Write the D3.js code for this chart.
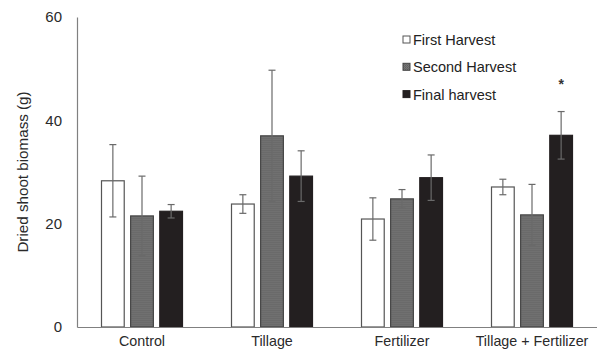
<!DOCTYPE html>
<html>
<head>
<meta charset="utf-8">
<script src="https://cdn.jsdelivr.net/npm/d3@7/dist/d3.min.js"></script>
<style>
  html, body { margin: 0; padding: 0; background: #fff; }
  svg { display: block; font-family: "Liberation Sans", Arial, sans-serif; }
</style>
</head>
<body>
<svg id="chart" width="597" height="354"></svg>
<script>
// Treatments and harvest series
const categories = ["Control", "Tillage", "Fertilizer", "Tillage + Fertilizer"];
const seriesNames = ["First Harvest", "Second Harvest", "Final harvest"];
const firstHarvest  = [28.3, 23.8, 20.9, 27.1];
const secondHarvest = [21.5, 37.0, 24.8, 21.7];
const finalHarvest  = [22.4, 29.2, 28.9, 37.1];
// Error bar half-lengths (±)
const firstErr  = [7.0, 1.8, 4.1, 1.5];
const secondErr = [7.7, 12.7, 1.8, 5.9];
const finalErr  = [1.3, 4.9, 4.4, 4.6];
const yTicks = [0, 20, 40, 60];
// Significance marker
const markers = [{ category: "Tillage + Fertilizer", series: 2, text: "*" }];

const values = [firstHarvest, secondHarvest, finalHarvest];
const errors = [firstErr, secondErr, finalErr];

const svg = d3.select("#chart");
const margin = { left: 77, right: 0, top: 17, bottom: 27 };
const W = 597, H = 354;
const FONT = "Liberation Sans, Arial, sans-serif";

const defs = svg.append("defs");
const pat = defs.append("pattern")
  .attr("id", "dots").attr("patternUnits", "userSpaceOnUse")
  .attr("width", 2).attr("height", 2);
pat.append("rect").attr("width", 2).attr("height", 2).attr("fill", "#858585");
pat.append("rect").attr("width", 1).attr("height", 1).attr("fill", "#505050");
pat.append("rect").attr("x", 1).attr("y", 1).attr("width", 1).attr("height", 1).attr("fill", "#5a5a5a");

const fills = ["#ffffff", "url(#dots)", "#231f20"];
const strokes = ["#555", "#444", "#231f20"];

const x0 = d3.scaleBand().domain(categories)
  .range([margin.left, W - margin.right]).paddingInner(0).paddingOuter(0);
const x1 = d3.scaleBand().domain(d3.range(3))
  .range([0, 81]).paddingInner(0.22).paddingOuter(0);
const groupOffset = (x0.bandwidth() - 81) / 2;
const y = d3.scaleLinear().domain([0, 60]).range([H - margin.bottom, margin.top]);

// Y axis
const yAxis = svg.append("g")
  .attr("transform", `translate(${margin.left},0)`)
  .call(d3.axisLeft(y).tickValues(yTicks).tickSize(0).tickPadding(15));
yAxis.select(".domain").attr("stroke", "#808080").attr("stroke-width", 1.2);
yAxis.selectAll("text").attr("font-size", 15).attr("fill", "#2a2a2a")
  .attr("font-family", FONT);

// Bars
categories.forEach((cat, ci) => {
  const g = svg.append("g").attr("transform", `translate(${x0(cat) + groupOffset},0)`);
  values.forEach((vals, si) => {
    g.append("rect")
      .attr("x", x1(si)).attr("width", x1.bandwidth())
      .attr("y", y(vals[ci])).attr("height", y(0) - y(vals[ci]))
      .attr("fill", fills[si]).attr("stroke", strokes[si]).attr("stroke-width", 1.2);
  });
  values.forEach((vals, si) => {
    const cx = x1(si) + x1.bandwidth() / 2;
    const hi = vals[ci] + errors[si][ci], lo = vals[ci] - errors[si][ci];
    const eg = g.append("g").attr("stroke", "#6a6a6a").attr("stroke-width", 1.2);
    eg.append("line").attr("x1", cx).attr("x2", cx).attr("y1", y(hi)).attr("y2", y(lo));
    eg.append("line").attr("x1", cx - 3.5).attr("x2", cx + 3.5).attr("y1", y(hi)).attr("y2", y(hi));
    eg.append("line").attr("x1", cx - 3.5).attr("x2", cx + 3.5).attr("y1", y(lo)).attr("y2", y(lo));
  });
});

// X axis
const xAxis = svg.append("g")
  .attr("transform", `translate(0,${y(0)})`)
  .call(d3.axisBottom(x0).tickSize(0).tickPadding(9));
xAxis.select(".domain").attr("stroke", "#808080").attr("stroke-width", 1.2);
xAxis.selectAll("text").attr("font-size", 14.3).attr("fill", "#2a2a2a")
  .attr("font-family", FONT);

// Significance markers
markers.forEach(m => {
  const ci = categories.indexOf(m.category);
  const top = values[m.series][ci] + errors[m.series][ci];
  svg.append("text")
    .attr("x", x0(m.category) + groupOffset + x1(m.series) + x1.bandwidth() / 2)
    .attr("y", y(top) - 23)
    .attr("text-anchor", "middle").attr("font-size", 14).attr("font-weight", "bold")
    .attr("fill", "#333").attr("font-family", FONT)
    .text(m.text);
});

// Y axis title
svg.append("text")
  .attr("transform", `translate(28,${(y(0) + y(60)) / 2}) rotate(-90)`)
  .attr("text-anchor", "middle").attr("font-size", 15.2).attr("fill", "#2a2a2a")
  .attr("font-family", FONT)
  .text("Dried shoot biomass (g)");

// Legend
const legend = svg.append("g").attr("transform", "translate(403,40)");
seriesNames.forEach((name, i) => {
  const lg = legend.append("g").attr("transform", `translate(0,${i * 27.3})`);
  lg.append("rect").attr("x", 0).attr("y", -4).attr("width", 7).attr("height", 7)
    .attr("fill", fills[i]).attr("stroke", strokes[i]).attr("stroke-width", 1);
  lg.append("text").attr("x", 10).attr("y", 5)
    .attr("font-size", 14.5).attr("fill", "#222").attr("font-family", FONT).text(name);
});
</script>
</body>
</html>
